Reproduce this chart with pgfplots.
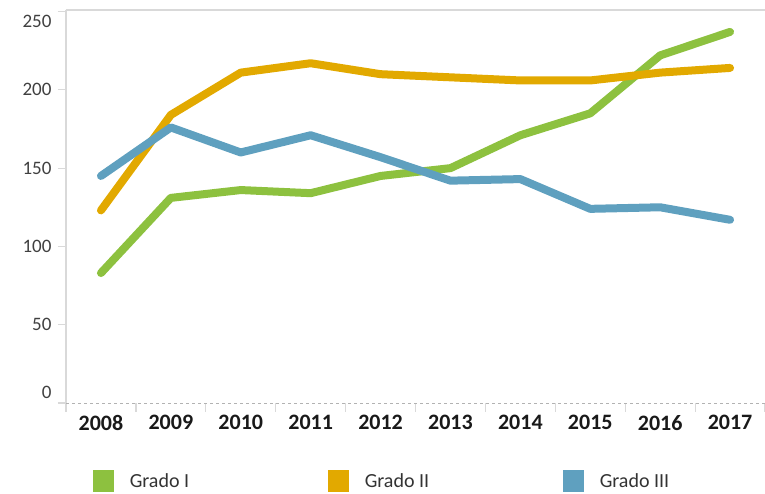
\documentclass[border=0pt]{standalone}
\usepackage{pgfplots}
\pgfplotsset{compat=1.18}
\usepackage{fontspec}
\setmainfont{Carlito}
\definecolor{gI}{HTML}{8DC13F}
\definecolor{gII}{HTML}{E2A900}
\definecolor{gIII}{HTML}{5FA0BF}
\definecolor{frame}{HTML}{D9D9D9}
\begin{document}
\begin{tikzpicture}
\begin{axis}[
  scale only axis,
  width=699pt, height=393pt,
  xmin=-0.5, xmax=9.5,
  ymin=0, ymax=251,
  axis x line*=bottom, axis y line*=left,
  x axis line style={draw=black!30, dashed, line width=0.8pt, -},
  y axis line style={draw=frame, line width=1.6pt, -},
  xtick={0,...,9},
  xticklabels={2008,2009,2010,2011,2012,2013,2014,2015,2016,2017},
  major x tick style={draw=none},
  minor xtick={-0.5,0.5,...,9.5},
  minor x tick style={draw=frame, line width=1.2pt},
  minor tick length=9pt,
  ytick={0,50,...,250},
  yticklabels={\raisebox{4pt}[0pt][0pt]{0},50,100,150,200,\raisebox{-16pt}[0pt][0pt]{250}},
  y tick style={draw=frame, line width=1.2pt},
  major tick length=8pt,
  tick align=outside,
  xticklabel style={font=\fontsize{22}{26}\selectfont\bfseries, text=black!90, yshift=-1pt},
  yticklabel style={font=\fontsize{19}{23}\selectfont, text=black!75, xshift=-3pt},
  /pgf/number format/assume math mode=true,
  clip=false,
  legend columns=3,
  legend cell align=left,
  legend style={draw=none, fill=none, at={(0.038,-0.17)}, anchor=north west,
    font=\fontsize{20}{24}\selectfont, text=black!80, inner sep=0pt},
  legend image code/.code={\fill[#1, draw=none] (0pt,-11pt) rectangle (21pt,11pt); \path[draw=none, fill=none] (0pt,0pt) -- (35pt,0pt);},
  every axis plot/.append style={line width=8pt, line join=round, line cap=round},
]
\draw[frame, line width=1.6pt] (rel axis cs:0,1) -- (rel axis cs:1.1,1);
\addplot[gI] coordinates {(0,83)(1,131)(2,136)(3,134)(4,145)(5,150)(6,171)(7,185)(8,222)(9,237)};
\addlegendentry{\makebox[196pt][l]{Grado I}}
\addplot[gII] coordinates {(0,123)(1,184)(2,211)(3,217)(4,210)(5,208)(6,206)(7,206)(8,211)(9,214)};
\addlegendentry{\makebox[196pt][l]{Grado II}}
\addplot[gIII] coordinates {(0,145)(1,176)(2,160)(3,171)(4,157)(5,142)(6,143)(7,124)(8,125)(9,117)};
\addlegendentry{\makebox[80pt][l]{Grado III}}
\end{axis}
\pgfresetboundingbox
\path[use as bounding box] (-66pt,-91pt) rectangle (699pt,403pt);
\end{tikzpicture}
\end{document}
